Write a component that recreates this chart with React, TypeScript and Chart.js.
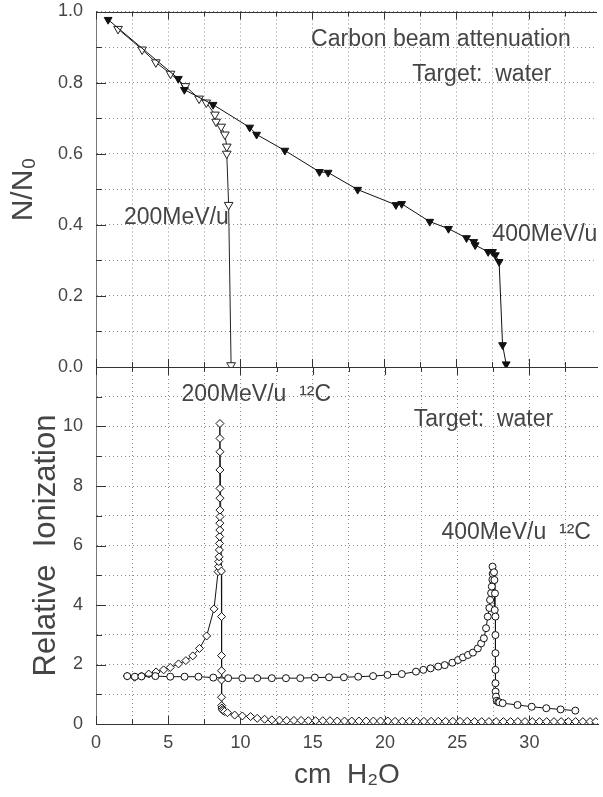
import React, { useEffect, useRef } from 'react';
import { Chart, registerables } from 'chart.js';
Chart.register(...registerables);

const FONT = '"Liberation Sans", Arial, sans-serif';

// ---- Top panel: N/N0 attenuation ----
const attn200X = [1.53, 3.2, 4.15, 5.17, 6.2, 7.15, 7.65, 8.25, 8.33, 8.68, 8.94, 9.07, 9.07, 9.2, 9.37];
const attn200Y = [0.951, 0.893, 0.857, 0.825, 0.79, 0.755, 0.744, 0.71, 0.69, 0.676, 0.654, 0.62, 0.6, 0.456, 0.005];

const attn400X = [0.84, 5.71, 6.13, 8.12, 10.66, 11.14, 13.1, 15.5, 16.1, 18.15, 20.8, 21.2, 23.15, 24.45, 25.7, 26.2, 26.3, 27.2, 27.5, 27.7, 27.96, 28.2, 28.45];
const attn400Y = [0.977, 0.811, 0.78, 0.738, 0.674, 0.654, 0.609, 0.549, 0.547, 0.499, 0.456, 0.459, 0.409, 0.389, 0.363, 0.352, 0.343, 0.324, 0.324, 0.315, 0.296, 0.062, 0.008];

// ---- Bottom panel: relative ionization ----
const ion200X = [
  2.16, 2.67, 3.15, 3.65, 4.16, 4.68, 5.14, 5.71, 6.22, 6.7,
  7.16, 7.66, 8.17, 8.45, 8.48, 8.5, 8.52, 8.54, 8.55, 8.56,
  8.57, 8.57, 8.58, 8.58, 8.58, 8.58, 8.58, 8.58, 8.58, 8.58,
  8.68, 8.69, 8.69, 8.69, 8.69, 8.69, 8.7, 8.72, 8.75, 8.8,
  8.9, 9.1, 9.6, 10.13, 10.7, 11.16, 11.67, 12.17, 12.7, 13.2,
  13.7, 14.2, 14.7, 15.2, 15.7, 16.2, 16.7, 17.2, 17.7, 18.2,
  18.7, 19.2, 19.7, 20.2, 20.7, 21.2, 21.7, 22.2, 22.7, 23.2,
  23.7, 24.2, 24.7, 25.2, 25.7, 26.2, 26.7, 27.2, 27.7, 28.2,
  28.7, 29.2, 29.7, 30.2, 30.7, 31.2, 31.7, 32.2, 32.7, 33.2,
  33.7, 34.2, 34.6,
];
const ion200Y = [
  1.61, 1.57, 1.61, 1.68, 1.75, 1.82, 1.9, 2.02, 2.13, 2.29,
  2.54, 2.96, 3.87, 5.12, 5.29, 5.46, 5.62, 5.85, 6.07, 6.3,
  6.52, 6.75, 6.97, 7.19, 7.59, 7.92, 8.54, 9.15, 9.6, 10.1,
  5.14, 3.61, 2.3, 1.79, 1.48, 0.9, 0.62, 0.54, 0.48, 0.45,
  0.42, 0.38, 0.3, 0.27, 0.25, 0.19, 0.16, 0.14, 0.13, 0.12,
  0.12, 0.12, 0.11, 0.11, 0.11, 0.11, 0.1, 0.1, 0.1, 0.1,
  0.1, 0.1, 0.1, 0.1, 0.09, 0.09, 0.09, 0.09, 0.09, 0.09,
  0.09, 0.09, 0.09, 0.09, 0.09, 0.08, 0.08, 0.08, 0.08, 0.08,
  0.08, 0.08, 0.08, 0.08, 0.08, 0.08, 0.08, 0.08, 0.08, 0.08,
  0.08, 0.08, 0.08,
];

const ion400X = [
  2.16, 2.69, 3.15, 4.11, 5.14, 6.13, 7.09, 8.12, 9.15, 10.13,
  11.16, 12.17, 13.15, 14.14, 15.15, 16.13, 17.16, 18.15, 19.18, 20.18,
  21.17, 22.15, 22.66, 23.16, 23.69, 24.14, 24.67, 25.06, 25.4, 25.75,
  26.09, 26.43, 26.66, 26.85, 27.0, 27.12, 27.23, 27.28, 27.35, 27.4,
  27.44, 27.46, 27.45, 27.55, 27.58, 27.62, 27.6, 27.65, 27.65, 27.65,
  27.65, 27.65, 27.66, 27.69, 27.74, 27.85, 27.92, 28.15, 29.18, 30.16,
  31.17, 32.16, 33.18,
];
const ion400Y = [
  1.61, 1.59, 1.6, 1.61, 1.59, 1.59, 1.59, 1.56, 1.54, 1.54,
  1.54, 1.54, 1.54, 1.54, 1.56, 1.57, 1.57, 1.59, 1.61, 1.65,
  1.68, 1.76, 1.82, 1.87, 1.93, 1.98, 2.06, 2.15, 2.24, 2.32,
  2.4, 2.54, 2.71, 2.88, 3.22, 3.61, 3.9, 4.17, 4.4, 4.62,
  4.85, 5.05, 5.29, 5.1, 4.84, 4.39, 3.83, 3.61, 2.99, 2.38,
  1.82, 1.37, 1.09, 0.92, 0.78, 0.74, 0.73, 0.7, 0.64, 0.58,
  0.53, 0.49, 0.45,
];

// ---- Text notes (data coordinates) ----
const topNotes = ['Carbon beam attenuation', 'Target:  water', '200MeV/u', '400MeV/u'];
const topNoteX = [14.92, 21.93, 1.94, 27.5];
const topNoteY = [0.921, 0.823, 0.42, 0.372];

const botNotes = ['200MeV/u  \u00B9\u00B2C', 'Target:  water', '400MeV/u  \u00B9\u00B2C'];
const botNoteX = [5.92, 22.0, 23.91];
const botNoteY = [11.06, 10.22, 6.42];

const X_MIN = 0;
const X_MAX = 34.75;
const X_STEP = 2.5;
const X_LABEL_MAX = 30;

const pts = (xs: number[], ys: number[]) => xs.map((x, i) => ({ x, y: ys[i] }));
const isMult = (v: number, s: number) => Math.abs(v / s - Math.round(v / s)) < 1e-6;

const GRID_COLOR = '#8f8f8f';
const TEXT_COLOR = '#454545';

function makeFrame(yMajor: number) {
  return {
    id: 'frame',
    beforeDatasetsDraw(chart: any) {
      const { ctx, chartArea: a, scales } = chart;
      const xs = scales.x;
      const ys = scales.y;
      ctx.save();
      ctx.strokeStyle = '#333';
      ctx.lineWidth = 1;
      ctx.beginPath();
      const top = Math.round(a.top) + 0.5;
      ctx.moveTo(a.left, top);
      ctx.lineTo(a.right, top);
      xs.ticks.forEach((t: any) => {
        const px = Math.round(xs.getPixelForValue(t.value)) + 0.5;
        const len = isMult(t.value, 5) ? 8 : 5;
        ctx.moveTo(px, a.bottom);
        ctx.lineTo(px, a.bottom - len);
        ctx.moveTo(px, a.top);
        ctx.lineTo(px, a.top + len);
      });
      ys.ticks.forEach((t: any) => {
        const py = Math.round(ys.getPixelForValue(t.value)) + 0.5;
        const len = isMult(t.value, yMajor) ? 10 : 6;
        ctx.moveTo(a.left, py);
        ctx.lineTo(a.left + len, py);
      });
      ctx.stroke();
      ctx.restore();
    },
  };
}

function makeNotes(texts: string[], xsv: number[], ysv: number[]) {
  return {
    id: 'notes',
    afterDatasetsDraw(chart: any) {
      const { ctx, scales } = chart;
      ctx.save();
      ctx.font = `23px ${FONT}`;
      ctx.fillStyle = TEXT_COLOR;
      ctx.textBaseline = 'middle';
      ctx.textAlign = 'left';
      texts.forEach((t, i) => {
        ctx.fillText(t, scales.x.getPixelForValue(xsv[i]), scales.y.getPixelForValue(ysv[i]));
      });
      ctx.restore();
    },
  };
}

function xScale(showLabels: boolean, box: { h: number }) {
  return {
    type: 'linear',
    min: X_MIN,
    max: X_MAX,
    afterFit: (s: any) => {
      s.height = box.h;
      s.paddingLeft = 0;
      s.paddingRight = 0;
    },
    ticks: {
      display: showLabels,
      stepSize: X_STEP,
      includeBounds: false,
      padding: 8,
      color: TEXT_COLOR,
      font: { size: 18, family: FONT },
      maxRotation: 0,
      autoSkip: false,
      callback: (v: any) => (isMult(v, 5) && v <= X_LABEL_MAX ? String(v) : ''),
    },
    grid: { color: GRID_COLOR, drawTicks: false, lineWidth: 1 },
    border: { display: true, color: '#333', dash: [1, 3] },
    title: {
      display: showLabels,
      text: 'cm  H\u2082O',
      color: TEXT_COLOR,
      font: { size: 28, family: FONT },
      padding: { top: 0, bottom: 5 },
    },
  };
}

const yFit = (s: any) => {
  s.width = 96;
  s.paddingTop = 0;
  s.paddingBottom = 0;
};

// nudge the layout so that the plot area sits where the figure wants it
function pinArea(chart: any, wantTop: number, wantBottom: number, box: { h: number }) {
  for (let i = 0; i < 6; i++) {
    const a = chart.chartArea;
    const dt = wantTop - a.top;
    const db = wantBottom - a.bottom;
    if (Math.abs(dt) < 0.3 && Math.abs(db) < 0.3) break;
    const p = chart.options.layout.padding;
    chart.options.layout.padding = { left: 0, right: 0, top: (p.top || 0) + dt, bottom: p.bottom || 0 };
    box.h = box.h - db;
    chart.update();
  }
}

export default function App() {
  const topRef = useRef<HTMLCanvasElement>(null);
  const botRef = useRef<HTMLCanvasElement>(null);

  useEffect(() => {
    Chart.defaults.font.family = FONT;
    const topBox = { h: 13 };
    const botBox = { h: 73 };
    const top = new Chart(topRef.current as HTMLCanvasElement, {
      type: 'line',
      data: {
        datasets: [
          {
            label: '400MeV/u',
            data: pts(attn400X, attn400Y),
            borderColor: '#111',
            borderWidth: 1,
            pointStyle: 'triangle',
            rotation: 180,
            pointRadius: 4.5,
            pointBackgroundColor: '#111',
            pointBorderColor: '#111',
            tension: 0,
          },
          {
            label: '200MeV/u',
            data: pts(attn200X, attn200Y),
            borderColor: '#222',
            borderWidth: 1,
            pointStyle: 'triangle',
            rotation: 180,
            pointRadius: 5,
            pointBackgroundColor: '#fff',
            pointBorderColor: '#222',
            pointBorderWidth: 1,
            tension: 0,
          },
        ],
      },
      options: {
        animation: false,
        responsive: false,
        layout: { padding: { top: 11, right: 0, bottom: 0, left: 0 } },
        plugins: { legend: { display: false }, tooltip: { enabled: false } },
        scales: {
          x: xScale(false, topBox) as any,
          y: {
            type: 'linear',
            min: 0,
            max: 1,
            afterFit: yFit,
            ticks: {
              stepSize: 0.1,
              padding: 13,
              color: TEXT_COLOR,
              font: { size: 18, family: FONT },
              callback: (v: any) => (isMult(v, 0.2) ? Number(v).toFixed(1) : ''),
            },
            grid: { color: GRID_COLOR, drawTicks: false },
            border: { display: true, color: '#777', dash: [1, 3] },
            title: {
              display: true,
              text: 'N/N\u2080',
              color: TEXT_COLOR,
              font: { size: 30, family: FONT },
              padding: { top: 6, bottom: 0 },
            },
          },
        },
      },
      plugins: [makeFrame(0.2), makeNotes(topNotes, topNoteX, topNoteY)],
    } as any);
    pinArea(top, 11.5, 367, topBox);

    const bot = new Chart(botRef.current as HTMLCanvasElement, {
      type: 'line',
      data: {
        datasets: [
          {
            label: '400MeV/u 12C',
            data: pts(ion400X, ion400Y),
            borderColor: '#111',
            borderWidth: 1,
            pointStyle: 'circle',
            pointRadius: 3.5,
            pointBackgroundColor: '#fff',
            pointBorderColor: '#111',
            pointBorderWidth: 1,
            tension: 0,
          },
          {
            label: '200MeV/u 12C',
            data: pts(ion200X, ion200Y),
            borderColor: '#111',
            borderWidth: 1,
            pointStyle: 'rectRot',
            pointRadius: 4,
            pointBackgroundColor: '#fff',
            pointBorderColor: '#111',
            pointBorderWidth: 1,
            tension: 0,
          },
        ],
      },
      options: {
        animation: false,
        responsive: false,
        layout: { padding: { top: 12, right: 0, bottom: 0, left: 0 } },
        plugins: { legend: { display: false }, tooltip: { enabled: false } },
        scales: {
          x: xScale(true, botBox) as any,
          y: {
            type: 'linear',
            min: 0,
            max: 12,
            afterFit: yFit,
            ticks: {
              stepSize: 1,
              padding: 13,
              color: TEXT_COLOR,
              font: { size: 18, family: FONT },
              callback: (v: any) => (isMult(v, 2) && v <= 10 ? String(v) : ''),
            },
            grid: { color: GRID_COLOR, drawTicks: false },
            border: { display: true, color: '#777', dash: [1, 3] },
            title: {
              display: true,
              text: 'Relative  Ionization',
              color: TEXT_COLOR,
              font: { size: 31, family: FONT },
              padding: { top: 28, bottom: 0 },
            },
          },
        },
      },
      plugins: [makeFrame(2), makeNotes(botNotes, botNoteX, botNoteY)],
    } as any);
    pinArea(bot, 12, 369, botBox);

    return () => {
      top.destroy();
      bot.destroy();
    };
  }, []);

  return (
    <div style={{ position: 'absolute', left: 0, top: 0, width: 603, height: 797, background: '#fff' }}>
      <canvas ref={botRef} width={603} height={442} style={{ position: 'absolute', left: 0, top: 355 }} />
      <canvas ref={topRef} width={603} height={380} style={{ position: 'absolute', left: 0, top: 0 }} />
    </div>
  );
}
